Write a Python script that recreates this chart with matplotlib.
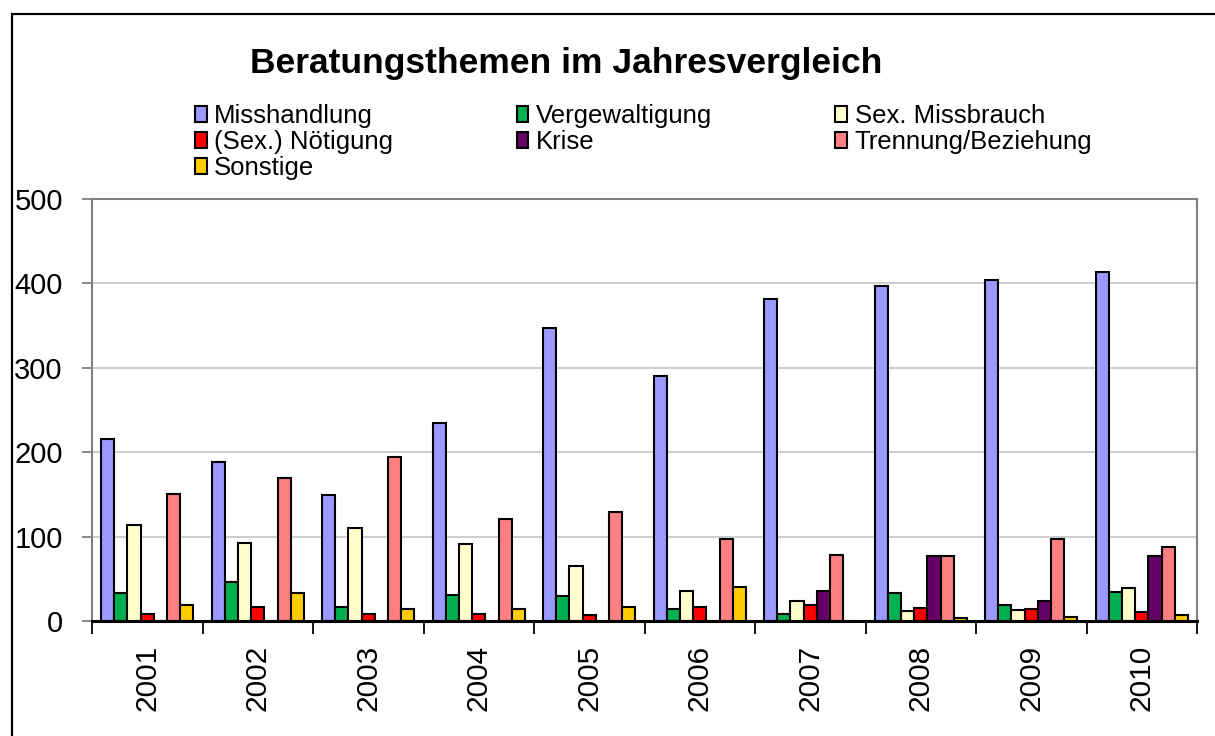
import matplotlib
matplotlib.use("Agg")
import matplotlib.pyplot as plt
import numpy as np
from matplotlib.patches import Rectangle, Patch

plt.rcParams['font.family'] = ['Liberation Sans', 'DejaVu Sans']

years = ["2001", "2002", "2003", "2004", "2005", "2006", "2007", "2008", "2009", "2010"]
series_names = ["Misshandlung", "Vergewaltigung", "Sex. Missbrauch", "(Sex.) Nötigung",
                "Krise", "Trennung/Beziehung", "Sonstige"]
misshandlung = [216, 188, 149, 235, 347, 290, 382, 397, 404, 413]
vergewaltigung = [33, 46, 16, 31, 30, 14, 8, 33, 19, 34]
sex_missbrauch = [114, 92, 110, 91, 65, 36, 24, 12, 13, 39]
noetigung = [8, 16, 8, 8, 7, 16, 19, 15, 14, 11]
krise = [0, 0, 0, 0, 0, 0, 36, 77, 24, 77]
trennung = [150, 170, 194, 121, 129, 97, 78, 77, 97, 88]
sonstige = [19, 33, 14, 14, 16, 40, 0, 3, 5, 7]
colors = ["#9999FF", "#00B050", "#FFFFCC", "#FF0000", "#660066", "#FF8080", "#FFCC00"]

data = [misshandlung, vergewaltigung, sex_missbrauch, noetigung, krise, trennung, sonstige]

W, H = 1215, 736
fig = plt.figure(figsize=(W / 100, H / 100), dpi=100)
fig.patch.set_facecolor("white")

# outer frame
fig.add_artist(Rectangle((12 / W, -0.1), 1.2, (H - 14) / H + 0.1, transform=fig.transFigure,
                         fill=False, edgecolor="black", lw=1.6))

ax = fig.add_axes([92 / W, 1 - 621 / H, (1197 - 92) / W, (621 - 199) / H])

x = np.arange(len(years))
n = len(data)
w = 0.837 / n
for j, (vals, c) in enumerate(zip(data, colors)):
    ax.bar(x + (j - (n - 1) / 2) * w, vals, width=w, color=c, edgecolor="black",
           linewidth=1.5, zorder=3)

ax.set_xlim(-0.5, len(years) - 0.5)
ax.set_ylim(0, 500)
ax.set_yticks([0, 100, 200, 300, 400, 500])
ax.yaxis.grid(True, color="#C0C0C0", linewidth=1.1, zorder=0)
ax.set_axisbelow(True)

ax.set_xticks(np.arange(-0.5, len(years), 1.0))
ax.set_xticklabels([])
ax.set_xticks(x, minor=True)
ax.set_xticklabels(years, minor=True, rotation=90, fontsize=21.5)
ax.tick_params(axis="x", which="major", direction="out", length=9, width=1.3, color="black")
ax.tick_params(axis="x", which="minor", length=0, pad=17)
ax.tick_params(axis="y", direction="out", length=7, width=1.3, color="#808080",
               labelsize=21, pad=14)

for s in ["left", "right", "top"]:
    ax.spines[s].set_color("#808080")
    ax.spines[s].set_linewidth(1.5)
ax.spines["bottom"].set_color("black")
ax.spines["bottom"].set_linewidth(2.2)
ax.spines["bottom"].set_zorder(5)

fig.text(566 / W, 1 - 63 / H, "Beratungsthemen im Jahresvergleich", ha="center", va="center",
         fontsize=25.5, fontweight="bold")

handles = [Patch(facecolor=c, edgecolor="black", linewidth=1.5) for c in colors]
order = [0, 3, 6, 1, 4, 2, 5]
leg = fig.legend([handles[i] for i in order], [series_names[i] for i in order],
                 ncol=3, loc="upper left", bbox_to_anchor=(195 / W, 1 - 104 / H),
                 frameon=False, fontsize=18.5, handlelength=0.45, handleheight=0.6,
                 handletextpad=0.3, labelspacing=0.08, columnspacing=4.8,
                 borderpad=0, borderaxespad=0)

fig.savefig("out.png", dpi=100, facecolor="white")
